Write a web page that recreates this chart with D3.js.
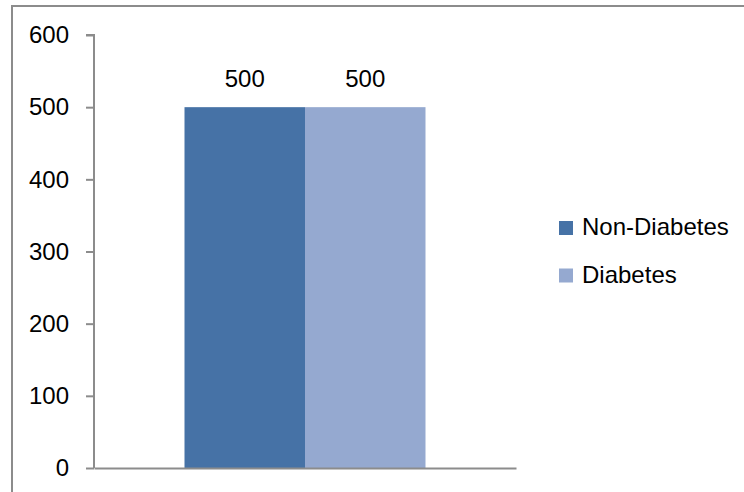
<!DOCTYPE html>
<html><head><meta charset="utf-8">
<script src="https://cdn.jsdelivr.net/npm/d3@7"></script>
<style>html,body{margin:0;padding:0;background:#fff;}svg{display:block;}</style>
</head><body>
<svg id="chart" width="744" height="492"></svg>
<script>
const categories = ["Group"];
const seriesNames = ["Non-Diabetes", "Diabetes"];
const seriesValues = [500, 500];
const yTicks = [0, 100, 200, 300, 400, 500, 600];
const colors = ["#4672a6", "#95a9d0"];

const svg = d3.select("#chart");
const font = "'Liberation Sans', Arial, sans-serif";
const fs = 24;

svg.append("rect").attr("x", 12).attr("y", 6).attr("width", 760).attr("height", 520)
  .attr("fill", "none").attr("stroke", "#8c8c8c").attr("stroke-width", 2);

const x0 = 94, x1 = 516, yTop = 35, yBot = 468;
const y = d3.scaleLinear().domain([0, 600]).range([yBot, yTop]);
const band = d3.scaleBand().domain(categories).range([x0, x1]).padding(0);
const groupW = 241;
const xs = d3.scaleBand().domain(seriesNames)
  .range([band(categories[0]) + (band.bandwidth() - groupW) / 2, band(categories[0]) + (band.bandwidth() + groupW) / 2]);

// bars
svg.append("g").selectAll("rect").data(seriesNames).join("rect")
  .attr("x", d => xs(d)).attr("width", xs.bandwidth())
  .attr("y", (d, i) => y(seriesValues[i])).attr("height", (d, i) => y(0) - y(seriesValues[i]))
  .attr("fill", (d, i) => colors[i]);

// data labels
svg.append("g").selectAll("text").data(seriesNames).join("text")
  .attr("x", d => xs(d) + xs.bandwidth() / 2).attr("y", (d, i) => y(seriesValues[i]) - 20)
  .attr("text-anchor", "middle").attr("font-family", font).attr("font-size", fs).attr("fill", "#000")
  .text((d, i) => seriesValues[i]);

// y axis
const yAxis = d3.axisLeft(y).tickValues(yTicks).tickSize(8).tickPadding(17).tickFormat(d3.format("d"));
const gy = svg.append("g").attr("transform", `translate(${x0},0)`).call(yAxis);
gy.select(".domain").attr("stroke", "#8c8c8c").attr("stroke-width", 2).attr("d", `M-8,${yTop}H0V${yBot}`);
gy.selectAll(".tick line").attr("stroke", "#8c8c8c").attr("stroke-width", 2);
gy.selectAll(".tick text").attr("font-family", font).attr("font-size", fs).attr("fill", "#000");

// x axis
const xAxis = d3.axisBottom(band).tickSize(0).tickFormat("");
const gx = svg.append("g").attr("transform", `translate(0,${yBot})`).call(xAxis);
gx.select(".domain").attr("stroke", "#8c8c8c").attr("stroke-width", 2);

// legend
const leg = svg.append("g").attr("transform", "translate(559,221)");
const li = leg.selectAll("g").data(seriesNames).join("g").attr("transform", (d, i) => `translate(0,${i * 47.5})`);
li.append("rect").attr("width", 14).attr("height", 14).attr("fill", (d, i) => colors[i]);
li.append("text").attr("x", 23).attr("y", 14).attr("font-family", font).attr("font-size", fs).attr("fill", "#000").text(d => d);
</script>
</body></html>
